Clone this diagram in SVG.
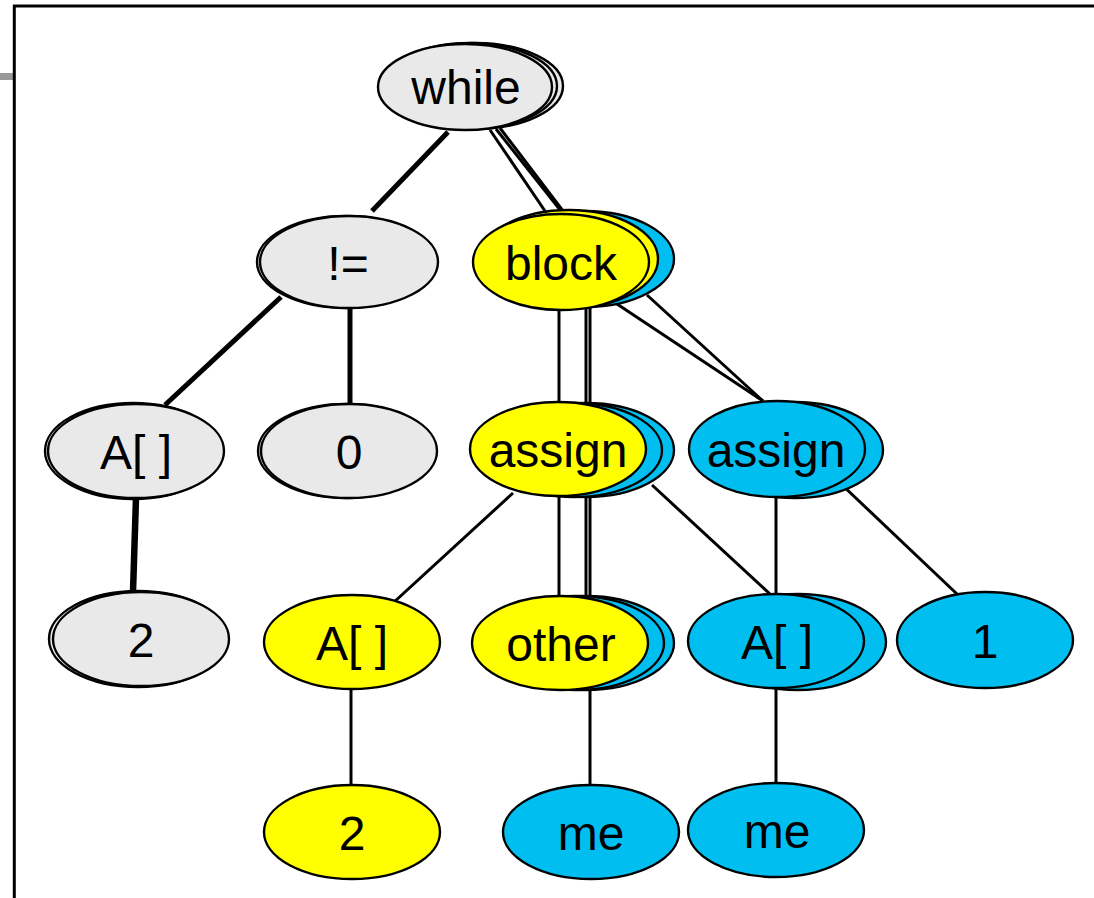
<svg xmlns="http://www.w3.org/2000/svg" width="1094" height="898" viewBox="0 0 1094 898">
<style>
.n{stroke:#000;stroke-width:2.4}
.g{fill:#e9e9e9}
.y{fill:#ffff00}
.b{fill:#00bff0}
.t{font-family:"Liberation Sans",Arial,sans-serif;font-size:48px;fill:#000;text-anchor:middle}
.e{stroke:#000;fill:none;stroke-width:3}
.k{stroke:#000;fill:none;stroke-width:5}
.k6{stroke:#000;fill:none;stroke-width:6.5}
</style>
<rect width="1094" height="898" fill="#fff"/>
<g id="frame">
<rect x="0" y="73" width="13" height="7" fill="#999"/>
<line x1="14.3" y1="5" x2="14.3" y2="898" stroke="#000" stroke-width="3"/>
<line x1="13" y1="6" x2="1094" y2="6" stroke="#000" stroke-width="3"/>
</g>
<g id="connectors">
<line class="k" x1="448" y1="132" x2="372" y2="211"/>
<line class="e" x1="490" y1="130" x2="545" y2="211"/>
<line class="e" x1="496" y1="129" x2="561" y2="211"/>
<line class="e" x1="500" y1="128" x2="563" y2="211"/>
<line class="k" x1="281" y1="297" x2="165" y2="405"/>
<line class="k" x1="350" y1="306" x2="350" y2="404"/>
<line class="k6" x1="136" y1="498" x2="133" y2="592"/>
<line class="e" x1="559" y1="308" x2="559" y2="403"/>
<line class="e" x1="586" y1="306" x2="586" y2="403"/>
<line class="e" x1="590" y1="306" x2="590" y2="403"/>
<line class="e" x1="614" y1="302" x2="763" y2="401"/>
<line class="e" x1="647" y1="295" x2="763" y2="401"/>
<line class="e" x1="513" y1="493" x2="393" y2="603"/>
<line class="e" x1="559" y1="495" x2="559" y2="597"/>
<line class="e" x1="586" y1="495" x2="586" y2="597"/>
<line class="e" x1="590" y1="495" x2="590" y2="597"/>
<line class="e" x1="652" y1="485" x2="770" y2="594"/>
<line class="e" x1="776" y1="496" x2="776" y2="596"/>
<line class="e" x1="840" y1="483" x2="957" y2="594"/>
<line class="e" x1="351" y1="689" x2="351" y2="786"/>
<line class="e" x1="590" y1="689" x2="590" y2="786"/>
<line class="e" x1="776" y1="688" x2="776" y2="783"/>
</g>
<g id="n-while">
<ellipse class="n g" cx="475" cy="86" rx="88" ry="43"/>
<ellipse class="n g" cx="470" cy="86" rx="87" ry="43"/>
<ellipse class="n g" cx="465" cy="87" rx="87" ry="43"/>
<text class="t" x="466" y="104">while</text>
</g>
<g id="n-neq">
<ellipse class="n g" cx="346" cy="262" rx="89" ry="46"/>
<ellipse class="n g" cx="349" cy="262" rx="89" ry="46"/>
<text class="t" x="348" y="280">!=</text>
</g>
<g id="n-block">
<ellipse class="n b" cx="585" cy="259" rx="89" ry="48"/>
<ellipse class="n y" cx="569" cy="259" rx="89" ry="49"/>
<ellipse class="n y" cx="561" cy="262" rx="88" ry="48"/>
<text class="t" x="561" y="280">block</text>
</g>
<g id="n-arr1">
<ellipse class="n g" cx="133" cy="451" rx="88" ry="48"/>
<ellipse class="n g" cx="136" cy="451" rx="88" ry="47"/>
<text class="t" x="136" y="469">A[ ]</text>
</g>
<g id="n-zero">
<ellipse class="n g" cx="346" cy="451" rx="88" ry="47"/>
<ellipse class="n g" cx="349" cy="451" rx="88" ry="47"/>
<text class="t" x="349" y="469">0</text>
</g>
<g id="n-assign1">
<ellipse class="n b" cx="586" cy="450" rx="88" ry="47"/>
<ellipse class="n b" cx="574" cy="450" rx="88" ry="47"/>
<ellipse class="n y" cx="558" cy="449" rx="88" ry="47"/>
<text class="t" x="558" y="467">assign</text>
</g>
<g id="n-assign2">
<ellipse class="n b" cx="795" cy="450" rx="88" ry="48"/>
<ellipse class="n b" cx="777" cy="449" rx="88" ry="48"/>
<text class="t" x="776" y="467">assign</text>
</g>
<g id="n-two1">
<ellipse class="n g" cx="138" cy="639" rx="89" ry="48"/>
<ellipse class="n g" cx="141" cy="639" rx="88" ry="47"/>
<text class="t" x="141" y="657">2</text>
</g>
<g id="n-arr2">
<ellipse class="n y" cx="352" cy="642" rx="88" ry="47"/>
<text class="t" x="352" y="660">A[ ]</text>
</g>
<g id="n-other">
<ellipse class="n b" cx="586" cy="643" rx="88" ry="47"/>
<ellipse class="n b" cx="576" cy="643" rx="88" ry="47"/>
<ellipse class="n y" cx="560" cy="643" rx="88" ry="47"/>
<text class="t" x="561" y="661">other</text>
</g>
<g id="n-arr3">
<ellipse class="n b" cx="798" cy="642" rx="88" ry="48"/>
<ellipse class="n b" cx="776" cy="641" rx="88" ry="47"/>
<text class="t" x="777" y="659">A[ ]</text>
</g>
<g id="n-one">
<ellipse class="n b" cx="985" cy="640" rx="88" ry="48"/>
<text class="t" x="985" y="658">1</text>
</g>
<g id="n-two2">
<ellipse class="n y" cx="352" cy="832" rx="88" ry="47"/>
<text class="t" x="352" y="850">2</text>
</g>
<g id="n-me1">
<ellipse class="n b" cx="591" cy="832" rx="88" ry="47"/>
<text class="t" x="591" y="850">me</text>
</g>
<g id="n-me2">
<ellipse class="n b" cx="776" cy="830" rx="88" ry="47"/>
<text class="t" x="777" y="848">me</text>
</g>
</svg>
